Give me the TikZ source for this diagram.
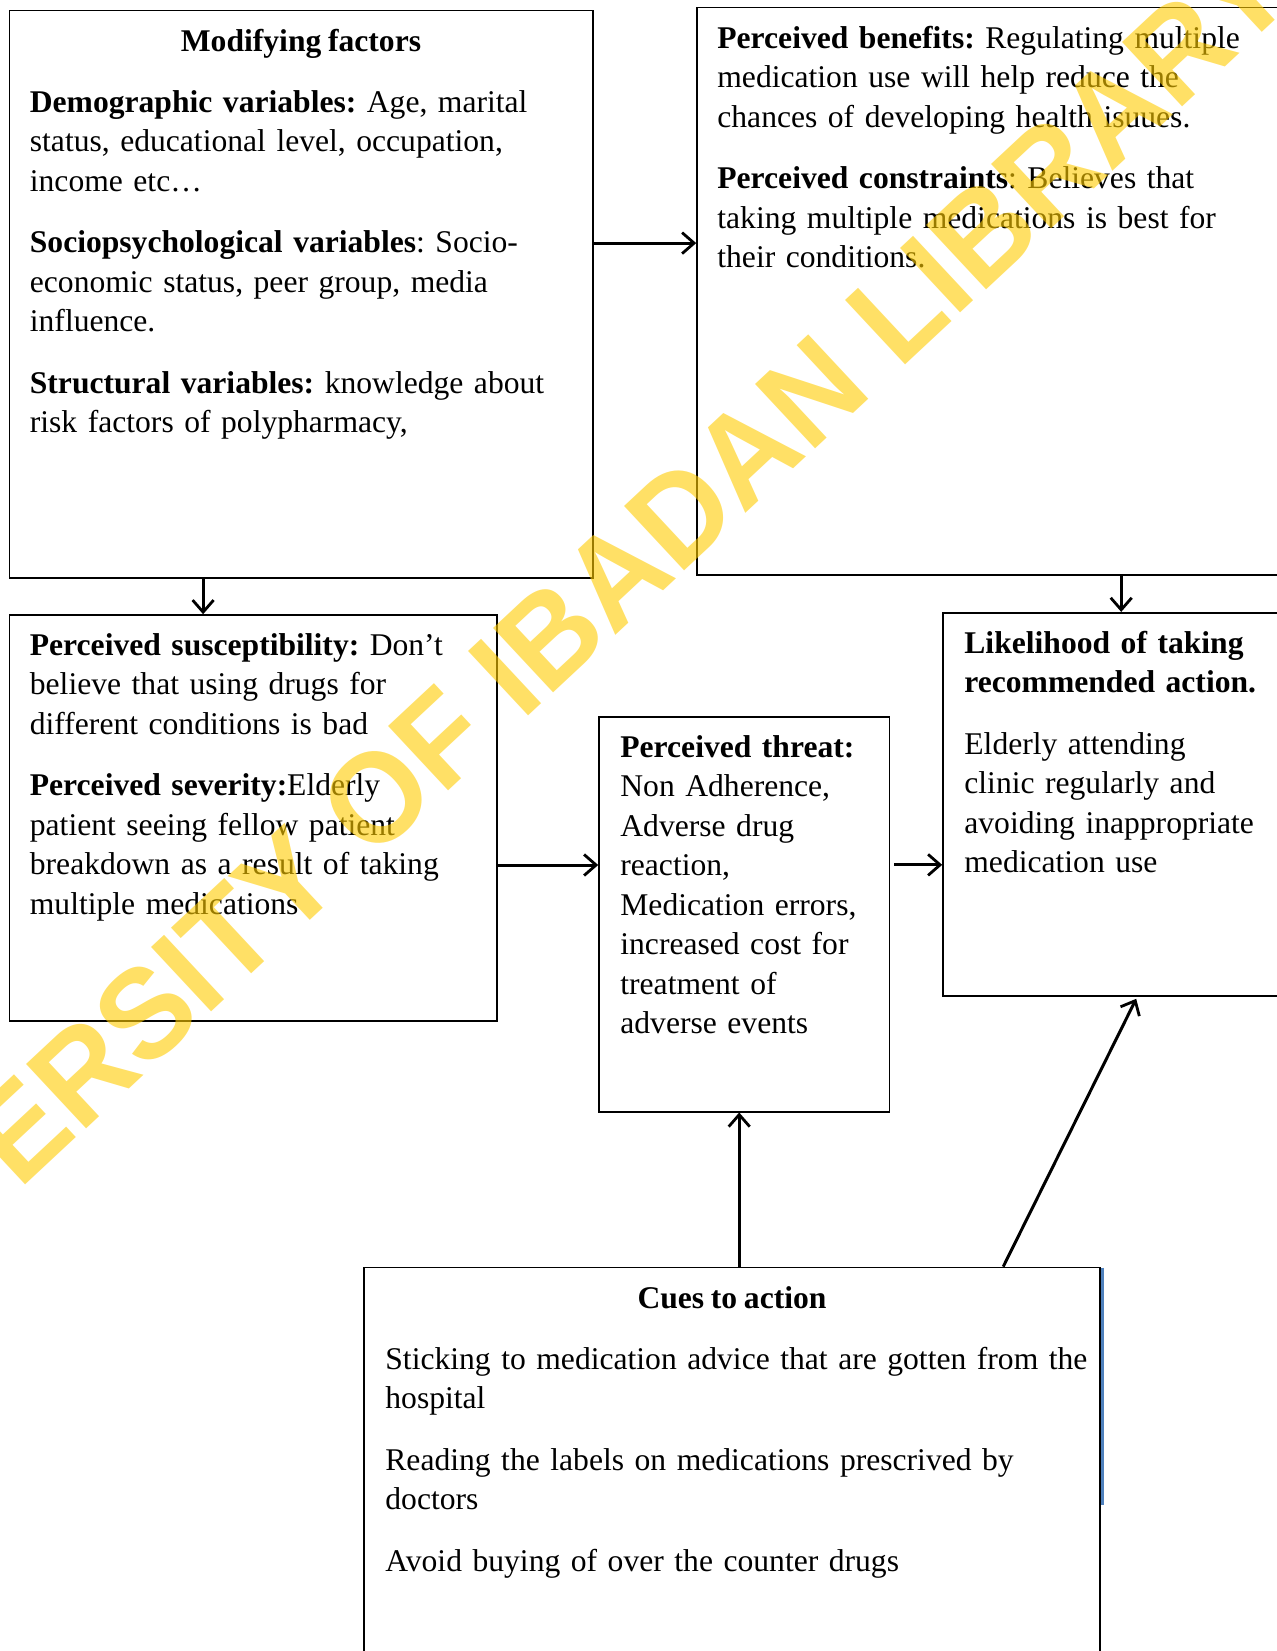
\documentclass[tikz,border=0pt]{standalone}
\usepackage{fontspec}
\setmainfont[WordSpace=0.85]{Liberation Serif}
\newfontfamily\wmfont{Liberation Sans}
\usetikzlibrary{arrows.meta,fit}
\definecolor{wmyellow}{RGB}{255,204,0}
\definecolor{wordblue}{RGB}{79,129,189}
\frenchspacing
\begin{document}
\begin{tikzpicture}[x=0.5pt,y=-0.5pt,
  box/.style={draw=black,line width=0.8pt,inner sep=0pt,fill=none},
  body/.style={anchor=base west,inner sep=0pt,text width=420pt,align=left,
    font=\fontsize{15.8}{19.75}\selectfont\frenchspacing},
  heading/.style={anchor=base,inner sep=0pt,font=\fontsize{15.8}{19.75}\selectfont\bfseries},
  arr/.style={line width=1.5pt,-{Straight Barb[length=6pt,width=10.5pt,line width=1.4pt]}},
  wm/.style={inner sep=0pt,text=wmyellow,opacity=0.6,font=\fontsize{64}{64}\selectfont\wmfont\bfseries}]
\useasboundingbox (0,0) rectangle (1277,1651);
\clip (0,0) rectangle (1277,1651);
\fill[white] (0,0) rectangle (1277,1651);

% boxes
\node[box,line width=0.9pt,fit={(9.5,10.5) (592.7,578)}] (mf) {};
\node[box,fit={(697,7.4) (1290,575)}] (pb) {};
\node[box,fit={(9.5,615) (497,1021)}] (ps) {};
\node[box,fit={(599,717) (889.6,1111.7)}] (pt) {};
\node[box,fit={(943,612.7) (1290,996)}] (lk) {};
\node[box,fit={(364,1267.5) (1100,1670)}] (ca) {};
\coordinate (bluetop) at (1102.5,1267.5);
\coordinate (bluebot) at (1102.5,1505);
\draw[wordblue,line width=1.3pt] (bluetop) -- (bluebot);

% texts
\node[heading] (mft) at (301,51) {Modifying factors};
\node[body] (mfb) at (29.5,112) {\textbf{Demographic variables:} Age, marital\\
status, educational level, occupation,\\
income etc…\\[11pt]
\textbf{Sociopsychological variables}: Socio-\\
economic status, peer group, media\\
influence.\\[11pt]
\textbf{Structural variables:} knowledge about\\
risk factors of polypharmacy,};

\node[body] (pbb) at (717,48) {\textbf{Perceived benefits:} Regulating multiple\\
medication use will help reduce the\\
chances of developing health isuues.\\[11pt]
\textbf{Perceived constraints}: Believes that\\
taking multiple medications is best for\\
their conditions.};

\node[body] (psb) at (29.5,655) {\textbf{Perceived susceptibility:} Don’t\\
believe that using drugs for\\
different conditions is bad\\[11pt]
\textbf{Perceived severity:}Elderly\\
patient seeing fellow patient\\
breakdown as a result of taking\\
multiple medications};

\node[body] (ptb) at (620,757) {\textbf{Perceived threat:}\\
Non Adherence,\\
Adverse drug\\
reaction,\\
Medication errors,\\
increased cost for\\
treatment of\\
adverse events};

\node[body] (lkb) at (964,653) {\textbf{Likelihood of taking}\\
\textbf{recommended action.}\\[11pt]
Elderly attending\\
clinic regularly and\\
avoiding inappropriate\\
medication use};

\node[heading] (cat) at (732,1308) {Cues to action};
\node[body] (cab) at (385,1369) {Sticking to medication advice that are gotten from the\\
hospital\\[11pt]
Reading the labels on medications prescrived by\\
doctors\\[11pt]
Avoid buying of over the counter drugs};

% connectors
\draw[arr] ([xshift=97.25pt]mf.south west) -- ([xshift=97.25pt]mf.south west |- ps.north);
\draw[arr] ([yshift=-116.75pt]mf.north east) -- ([yshift=-116.75pt]mf.north east -| pb.west);
\draw[arr] ([xshift=89.5pt]lk.north west |- pb.south) -- ([xshift=89.5pt]lk.north west);
\draw[arr] ([yshift=-23.5pt]ps.east) -- ([yshift=-23.5pt]ps.east -| pt.west);
\draw[arr] ([xshift=2pt,yshift=24.75pt]pt.east) -- ([yshift=24.75pt]pt.east -| lk.west);
\draw[arr] ([xshift=188pt]ca.north west) -- ([xshift=188pt]ca.north west |- pt.south);
\draw[arr] ([xshift=320pt]ca.north west) -- ([xshift=97pt,yshift=-1pt]lk.south west);

% watermark
\node[wm,rotate=43,xscale=0.967] (wmk) at (521,663) {UNIVERSITY OF IBADAN LIBRARY};
\end{tikzpicture}
\end{document}
